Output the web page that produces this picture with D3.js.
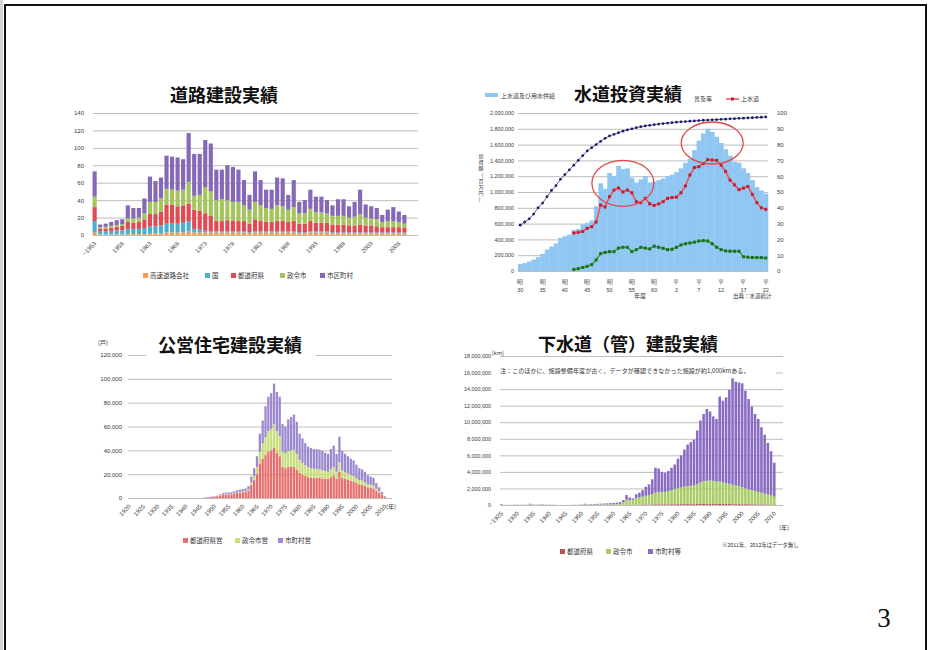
<!DOCTYPE html>
<html>
<head>
<meta charset="utf-8">
<script src="https://cdn.jsdelivr.net/npm/d3@7"></script>
<style>
  body { margin: 0; background: #fff; }
  svg { display: block; font-family: "Noto Sans CJK JP", "Noto Sans", sans-serif; }
  .tick line { stroke: #bdbdbd; }
  .domain { display: none; }
</style>
</head>
<body>
<svg id="slide" width="932" height="650"></svg>
<script>
// ---------- 道路建設実績 (km, stacked by road administrator) ----------
const roadYears = ["~1953"].concat(d3.range(1954, 2010).map(String));
const roadTicks = ["~1953", "1958", "1963", "1968", "1973", "1978", "1983", "1988", "1993", "1998", "2003", "2008"];
const roadKeys = ["高速道路会社", "国", "都道府県", "政令市", "市区町村"];
const roadExpressway = [3,0.5,0.5,0.5,0.5,0.5,1,1,1,1,2,2,2,3,3,3,3,4,3,3,3,3,3,3,3,3,3,3,2,3,3,3,3,3,3,3,3,2,2,3,3,3,3,2,2,2,2,2,2,2,2,2,2,2,2,2,2];
const roadNational   = [13,4,4,4,5,5,6,6,6,7,8,8,9,10,10,10,11,12,4,3,2,1,1,1,1,1,1,1,1,1,1,1,1,1,1,1,1,1,1,1,1,1,1,1,1,1,1,1,1,1,1,1,1,1,1,1,1];
const roadPref       = [16,3,3,4,4,5,8,7,8,10,14,14,16,22,22,20,20,20,22,22,20,18,12,12,13,12,12,12,10,14,12,11,11,12,12,11,12,10,10,12,10,10,10,9,9,9,8,8,9,8,8,7,6,6,6,6,5];
const roadCity       = [12,1.5,2,2,2,2,4,5,5,7,14,14,15,18,17,18,18,25,16,18,30,28,24,25,23,22,22,18,16,20,18,16,15,18,17,14,16,12,12,14,12,12,11,10,10,10,9,10,12,9,8,8,6,7,7,6,5];
const roadMunicipal  = [29,3,3.5,4.5,5.5,5.5,15,12,11,17,29,24,24,38,38,38,35,56,48,47,54,55,35,34,40,40,37,29,17,35,29,21,22,32,32,17,31,13,15,22,18,18,15,12,19,19,13,17,28,15,14,13,8,13,16,12,10];

// ---------- 水道投資実績 ----------
const waterYears = d3.range(1955, 2011);
const waterTicks = [1955, 1960, 1965, 1970, 1975, 1980, 1985, 1990, 1995, 2000, 2005, 2010];
const waterTickEra = ["昭", "昭", "昭", "昭", "昭", "昭", "昭", "平", "平", "平", "平", "平"];
const waterTickNum = ["30", "35", "40", "45", "50", "55", "60", "2", "7", "12", "17", "22"];
// 上水道及び用水供給 (thousands of 百万円), 1955–2010
const waterTotal = [90,100,120,145,175,215,270,310,350,420,440,460,520,530,590,610,640,820,1110,1040,1240,1200,1330,1290,1300,1180,1120,1160,1200,1120,1130,1150,1170,1200,1220,1250,1300,1370,1420,1530,1650,1740,1800,1760,1700,1620,1540,1460,1380,1370,1300,1240,1150,1060,1020,980].map(v => v * 1000);
// 普及率 (%), 1955–2010
const waterCoverage = [29,31,33,36,40,43,47,51,54,58,61,64,67,70,73,76,78,80,82,84,85.5,86.5,87.5,88.5,89.3,90,90.7,91.3,91.8,92.2,92.6,93,93.3,93.6,93.9,94.2,94.4,94.6,94.8,95,95.2,95.4,95.5,95.7,95.8,96,96.1,96.3,96.4,96.6,96.7,96.9,97,97.2,97.3,97.5];
// 上水道 and 用水供給 (thousands of 百万円), 1967–2010
const waterLineYears = d3.range(1967, 2011);
const waterUpper = [480,490,500,540,560,620,835,810,940,1025,1050,1000,1025,990,877,865,920,850,830,850,877,920,930,935,990,1076,1215,1310,1320,1360,1410,1405,1400,1340,1260,1150,1090,1030,1050,1070,970,865,800,780].map(v => v * 1000);
const waterBulk  = [20,30,45,60,80,140,220,235,245,245,290,300,300,245,270,300,290,280,315,300,287,270,275,300,330,345,355,365,380,385,380,345,300,270,255,250,250,250,180,175,170,170,170,165].map(v => v * 1000);
const waterHighlights = [{ year: 1978, value: 1110000, rx: 31, ry: 23 }, { year: 1998, value: 1620000, rx: 31, ry: 21 }];

// ---------- 公営住宅建設実績 (戸) ----------
const housingYears = d3.range(1920, 2011);
const housingTicks = d3.range(1920, 2011, 5);
const housingKeys = ["都道府県営", "政令市営", "市町村営"];
const zeros25 = [0,0,0,0,0,0,0,0,0,0,0,0,0,0,0,0,0,0,0,0,0,0,0,0,0];
const housingPref = zeros25.concat([0,200,400,600,800,1000,1300,2000,2800,3000,3000,3100,3500,4200,4500,4800,5000,6200,11000,15000,20000,29000,33000,36000,39000,40000,42000,38000,35000,26000,25000,26000,26000,26000,24000,21000,19500,18500,17500,17000,17000,17000,17000,16500,16000,16000,17500,19000,16000,22000,17000,16000,15500,14500,14000,12500,11500,11000,10000,9000,8500,8000,6000,4500,2500,800]);
const housingCity = zeros25.concat([0,0,0,0,0,0,100,200,300,300,300,300,400,500,500,600,600,800,2000,3500,6000,10000,13000,15000,17000,18000,20000,18000,17000,13000,12500,13500,14000,14500,13000,11000,10000,9000,8500,8000,7500,7500,7000,7000,6500,6000,6500,7000,6000,8000,6000,5500,5000,5000,4500,4000,3500,3500,3000,2500,2500,2300,1700,1200,700,200]);
const housingMunicipal = zeros25.concat([0,100,200,300,400,500,600,800,1100,1200,1300,1400,1600,1800,2000,2100,2400,3000,5000,6500,9000,15000,19000,26000,29000,30000,34000,33000,33000,23000,22500,26500,28000,29500,27000,22000,20500,18500,17000,17000,16500,16500,16500,16000,15500,15000,17000,18000,15000,21500,16500,15500,14500,13500,13000,11500,10000,9500,9000,7500,7000,6700,4800,3300,1800,500]);

// ---------- 下水道（管）建設実績 ----------
// values listed in thousands of the axis unit
const sewerYears = ["~1925"].concat(d3.range(1926, 2013).map(String));
const sewerTicks = ["~1925"].concat(d3.range(1930, 2011, 5).map(String));
const sewerKeys = ["都道府県", "政令市", "市町村等"];
const sewerPref = [0,0,0,0,0,0,0,0,0,0,0,0,0,0,0,0,0,0,0,0,0,0,0,0,0,0,0,0,0,0,0,0,0,0,0,0,0,0,
  20,40,40,40,50,60,60,70,70,80,90,90,90,90,90,100,100,110,110,110,110,110,110,120,120,120,120,120,120,120,120,120,120,120,110,110,110,100,100,100,90,90,80,80,70,70,60,60].map(v => v * 1000);
const sewerCity = [50,10,10,15,15,15,10,10,15,60,20,20,25,30,15,15,10,5,5,5,5,10,10,15,20,25,60,30,40,45,50,60,70,75,80,90,100,130,
  300,600,550,600,750,850,950,1050,1100,1250,1400,1450,1450,1500,1600,1700,1850,1950,2000,2100,2150,2200,2250,2400,2600,2750,2800,2850,2800,2700,2750,2600,2500,2450,2350,2250,2150,2050,1900,1800,1700,1600,1500,1400,1300,1200,1100,950].map(v => v * 1000);
const sewerMunicipal = [70,10,10,15,25,25,20,20,25,90,40,30,35,50,25,25,20,15,5,5,5,0,10,15,20,35,90,50,60,75,90,100,110,125,140,160,180,220,
  280,560,310,160,500,590,790,1080,1330,1770,3010,2860,2460,2310,2410,2700,2950,3540,3890,4490,5040,5290,5540,6480,7480,8130,8680,8330,7780,7580,10230,9880,10380,11330,12840,12540,12540,12550,11800,10900,10110,9310,8820,7920,7130,6230,5340,4090].map(v => v * 1000);

// ---------- drawing ----------
const svg = d3.select("#slide");
svg.append("rect").attr("width", 932).attr("height", 650).attr("fill", "#fff");
svg.append("rect").attr("x", 0).attr("y", 0).attr("width", 3).attr("height", 650).attr("fill", "#d4d4d4");
svg.append("rect").attr("x", 5).attr("y", 5).attr("width", 921).attr("height", 700)
  .attr("fill", "none").attr("stroke", "#111").attr("stroke-width", 2);

const tickFont = 6;
const labelColor = "#3a3a3a";

function stackBars(g, cats, series, colors, x, y) {
  const rows = cats.map((c, i) => { const r = { cat: c }; series.forEach((s, k) => r[k] = s[i] || 0); return r; });
  const layers = d3.stack().keys(series.map((s, k) => k))(rows);
  g.selectAll("g.layer").data(layers).join("g").attr("class", "layer").attr("fill", (d, k) => colors[k])
    .selectAll("rect").data(d => d).join("rect")
    .attr("x", d => x(d.data.cat)).attr("width", x.bandwidth())
    .attr("y", d => y(d[1])).attr("height", d => Math.max(0, y(d[0]) - y(d[1])));
}

function gridAxis(g, y, left, width, ticks, fmt, pad, size) {
  const ax = g.append("g").attr("transform", `translate(${left},0)`)
    .call(d3.axisLeft(y).tickValues(ticks).tickSize(-width).tickPadding(pad).tickFormat(fmt));
  ax.selectAll("text").attr("font-size", size || tickFont).attr("fill", labelColor);
  ax.selectAll("line").attr("stroke", "#c4c4c4");
  return ax;
}

function rotatedXAxis(g, x, ticks, top, dx) {
  const ax = g.append("g").attr("transform", `translate(0,${top})`)
    .call(d3.axisBottom(x).tickValues(ticks).tickSize(0).tickPadding(0));
  ax.selectAll("text").attr("font-size", tickFont).attr("fill", labelColor)
    .attr("text-anchor", "end").attr("dy", 0).attr("y", 0)
    .attr("transform", `translate(${dx},4) rotate(-45)`);
  return ax;
}

function legend(g, items, colors, y, xs) {
  items.forEach((t, k) => {
    g.append("rect").attr("x", xs[k]).attr("y", y - 5).attr("width", 5).attr("height", 5).attr("fill", colors[k]);
    g.append("text").attr("x", xs[k] + 7).attr("y", y).attr("font-size", 6.5).attr("fill", "#333").text(t);
  });
}

function title(g, text, cx, y, size) {
  g.append("text").attr("x", cx).attr("y", y).attr("text-anchor", "middle")
    .attr("font-size", size).attr("font-weight", 700).attr("fill", "#111").text(text);
}

// ===== 道路建設実績 =====
{
  const g = svg.append("g");
  const x = d3.scaleBand().domain(roadYears).range([92, 407]).paddingInner(0.25).paddingOuter(0.1);
  const y = d3.scaleLinear().domain([0, 140]).range([235, 113]);
  gridAxis(g, y, 93, 325, y.ticks(7), d3.format("d"), 9);
  const colors = ["#F79A4A", "#4DAED0", "#E24A52", "#A4C45E", "#8668B8"];
  stackBars(g.append("g"), roadYears, [roadExpressway, roadNational, roadPref, roadCity, roadMunicipal], colors, x, y);
  rotatedXAxis(g, x, roadTicks, 240, 2);
  title(g, "道路建設実績", 224, 102, 18);
  legend(g, roadKeys, colors, 278, [143, 205, 231, 280, 320]);
}

// ===== 水道投資実績 =====
{
  const g = svg.append("g");
  const x = d3.scaleBand().domain(waterYears).range([518, 768]).padding(0);
  const cx = yr => x(yr) + x.bandwidth() / 2;
  const yL = d3.scaleLinear().domain([0, 2000000]).range([271, 113]);
  const yR = d3.scaleLinear().domain([0, 100]).range([271, 113]);
  const ax = gridAxis(g, yL, 518, 250, d3.range(0, 2000001, 200000), d3.format(","), 4, 5.4);
  ax.selectAll("line").attr("stroke", "#9a9a9a");
  g.append("g").attr("fill", "#8FC6F2").selectAll("rect").data(waterYears).join("rect")
    .attr("x", d => x(d)).attr("width", x.bandwidth() + 0.3)
    .attr("y", (d, i) => yL(waterTotal[i])).attr("height", (d, i) => yL(0) - yL(waterTotal[i]));
  const axR = g.append("g").attr("transform", "translate(768,0)")
    .call(d3.axisRight(yR).tickValues(d3.range(0, 101, 10)).tickSize(0).tickPadding(9));
  axR.selectAll("text").attr("font-size", tickFont).attr("fill", labelColor);

  // 普及率
  g.append("path").datum(waterYears)
    .attr("d", d3.line().x(d => cx(d)).y((d, i) => yR(waterCoverage[i])))
    .attr("fill", "none").attr("stroke", "#3a3a8a").attr("stroke-width", 0.8);
  g.append("g").attr("fill", "#1d1d66").selectAll("circle").data(waterYears).join("circle")
    .attr("cx", d => cx(d)).attr("cy", (d, i) => yR(waterCoverage[i])).attr("r", 1.4);

  // 上水道, 用水供給
  const lineDefs = [[waterUpper, "#F0505C", "#C41E36"], [waterBulk, "#3AA63A", "#1E6E22"]];
  lineDefs.forEach(([vals, stroke, mark]) => {
    g.append("path").datum(waterLineYears)
      .attr("d", d3.line().x(d => cx(d)).y((d, i) => yL(vals[i])))
      .attr("fill", "none").attr("stroke", stroke).attr("stroke-width", 1.6);
    g.append("g").attr("fill", mark).selectAll("rect").data(waterLineYears).join("rect")
      .attr("x", d => cx(d) - 1.5).attr("y", (d, i) => yL(vals[i]) - 1.5).attr("width", 3).attr("height", 3);
  });

  // highlighted periods
  g.selectAll("ellipse").data(waterHighlights).join("ellipse")
    .attr("cx", d => cx(d.year)).attr("cy", d => yL(d.value)).attr("rx", d => d.rx).attr("ry", d => d.ry)
    .attr("fill", "none").attr("stroke", "#E04848").attr("stroke-width", 1.3);

  // x labels: era + year, stacked
  const axX = g.append("g").attr("transform", "translate(0,271)")
    .call(d3.axisBottom(x).tickValues(waterTicks).tickSize(0).tickFormat(""));
  axX.selectAll(".tick").each(function (d, i) {
    const t = d3.select(this);
    t.append("text").attr("y", 13).attr("text-anchor", "middle").attr("font-size", 5.5).attr("fill", labelColor).text(waterTickEra[i]);
    t.append("text").attr("y", 21).attr("text-anchor", "middle").attr("font-size", 5.5).attr("fill", labelColor).text(waterTickNum[i]);
  });
  g.append("text").attr("x", 640).attr("y", 298).attr("text-anchor", "middle").attr("font-size", 6).attr("fill", "#333").text("年度");
  g.append("text").attr("x", 733).attr("y", 298).attr("font-size", 5.5).attr("fill", "#333").text("出典：水道統計");

  // left axis title, written vertically
  const vt = "投資額（百万円）".split("");
  g.selectAll("text.vt").data(vt).join("text").attr("class", "vt")
    .attr("x", 481).attr("y", (d, i) => 158 + i * 6.2).attr("text-anchor", "middle")
    .attr("font-size", 5).attr("fill", "#333").text(d => d);

  title(g, "水道投資実績", 628, 101, 18);
  // legend
  g.append("rect").attr("x", 485).attr("y", 93).attr("width", 13).attr("height", 4).attr("fill", "#8FC6F2");
  g.append("text").attr("x", 501).attr("y", 98).attr("font-size", 6).attr("fill", "#333").text("上水道及び用水供給");
  g.append("text").attr("x", 694).attr("y", 101).attr("font-size", 6).attr("fill", "#333").text("普及率");
  g.append("line").attr("x1", 726).attr("x2", 739).attr("y1", 99).attr("y2", 99).attr("stroke", "#F0505C").attr("stroke-width", 1.5);
  g.append("rect").attr("x", 731).attr("y", 97.5).attr("width", 3).attr("height", 3).attr("fill", "#C41E36");
  g.append("text").attr("x", 741).attr("y", 101).attr("font-size", 6).attr("fill", "#333").text("上水道");
}

// ===== 公営住宅建設実績 =====
{
  const g = svg.append("g");
  const x = d3.scaleBand().domain(housingYears).range([128, 386]).paddingInner(0.2);
  const y = d3.scaleLinear().domain([0, 120000]).range([498, 355]);
  gridAxis(g, y, 128, 264, d3.range(0, 120001, 20000), d3.format(","), 6);
  const colors = ["#E86D6D", "#C8DD7C", "#9C88D0"];
  stackBars(g.append("g"), housingYears, [housingPref, housingCity, housingMunicipal], colors, x, y);
  rotatedXAxis(g, x, housingTicks, 503, 2);
  g.append("rect").attr("x", 146).attr("y", 333).attr("width", 170).attr("height", 25).attr("fill", "#fff");
  title(g, "公営住宅建設実績", 230, 352, 18);
  g.append("text").attr("x", 103).attr("y", 345).attr("text-anchor", "middle").attr("font-size", 6).attr("fill", "#333").text("(戸)");
  g.append("text").attr("x", 391).attr("y", 509).attr("text-anchor", "middle").attr("font-size", 6).attr("fill", "#333").text("(年)");
  legend(g, housingKeys, colors, 543, [183, 235, 278]);
}

// ===== 下水道（管）建設実績 =====
{
  const g = svg.append("g");
  const x = d3.scaleBand().domain(sewerYears).range([500, 782]).paddingInner(0.2);
  const y = d3.scaleLinear().domain([0, 18000000]).range([505, 356]);
  gridAxis(g, y, 500, 283, d3.range(0, 18000001, 2000000), d3.format(","), 9, 5.4);
  const colors = ["#C0504D", "#A8CC66", "#8A6DC2"];
  stackBars(g.append("g"), sewerYears, [sewerPref, sewerCity, sewerMunicipal], colors, x, y);
  rotatedXAxis(g, x, sewerTicks, 510, 2);
  title(g, "下水道（管）建設実績", 628, 351, 18);
  g.append("text").attr("x", 492).attr("y", 355).attr("font-size", 5.5).attr("fill", "#333").text("[km]");
  g.append("rect").attr("x", 498).attr("y", 364).attr("width", 278).attr("height", 11).attr("fill", "#fff");
  g.append("text").attr("x", 500).attr("y", 372.5).attr("font-size", 6.1).attr("fill", "#333")
    .text("注：このほかに、施設整備年度が古く、データが確認できなかった施設が約1,000kmある。");
  g.append("text").attr("x", 784).attr("y", 530).attr("text-anchor", "middle").attr("font-size", 6).attr("fill", "#333").text("(年)");
  g.append("text").attr("x", 722).attr("y", 547).attr("font-size", 5.3).attr("fill", "#333").text("※2011年、2012年はデータ無し");
  legend(g, sewerKeys, colors, 554, [560, 606, 648]);
}

// page number
svg.append("text").attr("x", 884).attr("y", 627).attr("text-anchor", "middle")
  .attr("font-family", "\"Liberation Serif\", \"DejaVu Serif\", serif").attr("font-size", 27).attr("fill", "#111").text("3");
</script>
</body>
</html>
